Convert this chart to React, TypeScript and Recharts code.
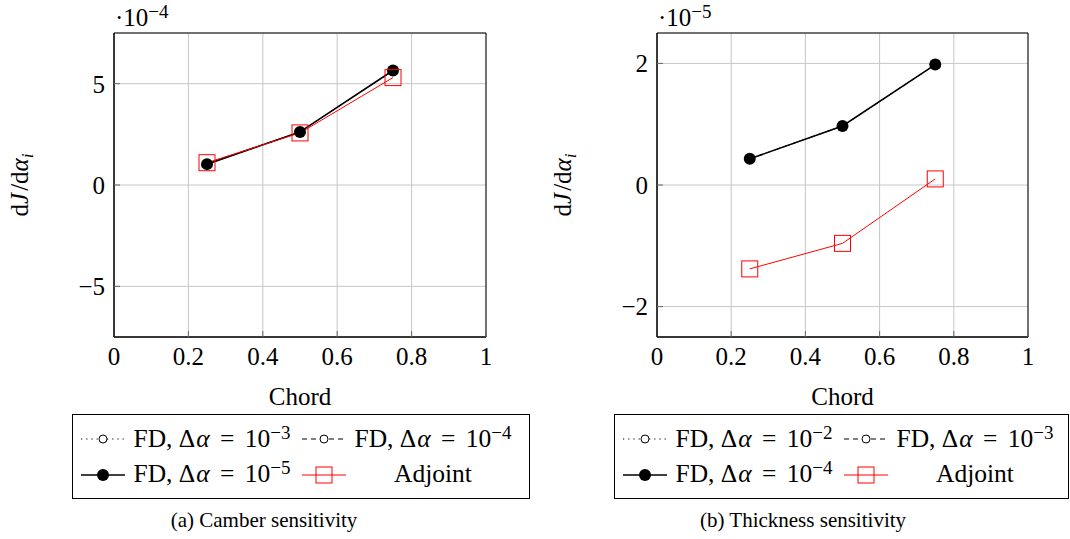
import type { ReactNode } from "react";
import {
  CartesianGrid,
  Label,
  Line,
  LineChart,
  ReferenceArea,
  XAxis,
  YAxis,
} from "recharts";

const FONT = '"Liberation Serif", "Times New Roman", serif';

const chord = [0.25, 0.5, 0.75];
const chordTicks = [0, 0.2, 0.4, 0.6, 0.8, 1];

// camber sensitivity, scaled by 1e4
const camberFdCoarse = [1.03, 2.62, 5.65];
const camberFdMid = [1.03, 2.62, 5.65];
const camberFdFine = [1.03, 2.62, 5.65];
const camberAdjoint = [1.1, 2.57, 5.3];
const camberSteps = ["−3", "−4", "−5"];
const camberTicks = [-5, 0, 5];

// thickness sensitivity, scaled by 1e5
const thicknessFdCoarse = [0.43, 0.97, 1.98];
const thicknessFdMid = [0.43, 0.97, 1.98];
const thicknessFdFine = [0.43, 0.97, 1.98];
const thicknessAdjoint = [-1.38, -0.96, 0.1];
const thicknessSteps = ["−2", "−3", "−4"];
const thicknessTicks = [-2, 0, 2];

type Mark = "open" | "filled" | "square";
type SeriesStyle = {
  key: string;
  color: string;
  width: number;
  dash?: string;
  mark: Mark;
};

const seriesStyles: SeriesStyle[] = [
  { key: "fdCoarse", color: "#000", width: 1, dash: "1.2 4", mark: "open" },
  { key: "fdMid", color: "#000", width: 1, dash: "5 4", mark: "open" },
  { key: "fdFine", color: "#000", width: 1.6, mark: "filled" },
  { key: "adjoint", color: "#ff0000", width: 1, mark: "square" },
];

function buildRows(fdCoarse: number[], fdMid: number[], fdFine: number[], adjoint: number[]) {
  return chord.map((x, i) => ({
    x,
    fdCoarse: fdCoarse[i],
    fdMid: fdMid[i],
    fdFine: fdFine[i],
    adjoint: adjoint[i],
  }));
}

const fmt = (v: number) => (v < 0 ? `−${-v}` : String(v));

const supStyle = {
  fontSize: 19,
  verticalAlign: "baseline",
  position: "relative" as const,
  top: -8,
};

function Marker({ mark, color, cx, cy }: { mark: Mark; color: string; cx: number; cy: number }) {
  if (mark === "filled") return <circle cx={cx} cy={cy} r={6} fill={color} />;
  if (mark === "open")
    return <circle cx={cx} cy={cy} r={4} fill="#fff" stroke={color} strokeWidth={1} />;
  return (
    <rect x={cx - 8} y={cy - 8} width={16} height={16} fill="none" stroke={color} strokeWidth={1} />
  );
}

function LegendSymbol({ s }: { s: SeriesStyle }) {
  return (
    <svg width={46} height={20} style={{ display: "block" }}>
      <line
        x1={1}
        y1={10}
        x2={45}
        y2={10}
        stroke={s.color}
        strokeWidth={s.width}
        strokeDasharray={s.dash}
      />
      <Marker mark={s.mark} color={s.color} cx={23} cy={10} />
    </svg>
  );
}

const legendSlots = [
  { sx: 8, tx: 140, sy: 25, ty: 12 },
  { sx: 229, tx: 361, sy: 25, ty: 12 },
  { sx: 8, tx: 140, sy: 61, ty: 47 },
  { sx: 229, tx: 361, sy: 61, ty: 47 },
];

function PanelLegend({ left, width, steps }: { left: number; width: number; steps: string[] }) {
  const labels: ReactNode[] = [
    ...steps.map((s) => (
      <>
        FD, Δ<i style={{ marginLeft: 1 }}>α</i>
        <span style={{ margin: "0 4px" }}>{" = "}</span>
        10<sup style={supStyle}>{s}</sup>
      </>
    )),
    "Adjoint",
  ];
  return (
    <div
      style={{
        position: "absolute",
        left,
        top: 414,
        width,
        height: 85,
        boxSizing: "border-box",
        border: "1px solid #000",
      }}
    >
      {seriesStyles.map((s, i) => {
        const slot = legendSlots[i];
        return (
          <div key={s.key}>
            <div style={{ position: "absolute", left: slot.sx - 1, top: slot.sy - 11 }}>
              <LegendSymbol s={s} />
            </div>
            <div
              style={{
                position: "absolute",
                left: slot.tx - 1,
                top: slot.ty - 1,
                transform: "translateX(-50%)",
                whiteSpace: "pre",
                fontSize: 25.5,
                lineHeight: "25px",
              }}
            >
              {labels[i]}
            </div>
          </div>
        );
      })}
    </div>
  );
}

type PanelProps = {
  left: number;
  width: number;
  plotLeft: number;
  plotRight: number;
  rows: ReturnType<typeof buildRows>;
  domain: [number, number];
  yTicks: number[];
  exponent: string;
  steps: string[];
  caption: string;
  captionCenter: number;
  legendLeft: number;
  legendWidth: number;
};

function Panel(p: PanelProps) {
  const yTitle = (props: any) => {
    const vb = props.viewBox ?? {};
    const x = (vb.x ?? 0) + (vb.width ?? 60) - 86;
    const y = (vb.y ?? 33) + (vb.height ?? 304) / 2;
    return (
      <text
        x={x}
        y={y}
        transform={`rotate(-90 ${x} ${y})`}
        textAnchor="middle"
        fontFamily={FONT}
        fontSize={25}
        fill="#000"
      >
        d<tspan fontStyle="italic">J</tspan>
        <tspan dx={2}>/d</tspan>
        <tspan fontStyle="italic">α</tspan>
        <tspan fontStyle="italic" fontSize={17} dy={5}>
          i
        </tspan>
      </text>
    );
  };
  const xTitle = (props: any) => {
    const vb = props.viewBox ?? {};
    return (
      <text
        x={(vb.x ?? 0) + (vb.width ?? 0) / 2}
        y={(vb.y ?? 337) + 68}
        textAnchor="middle"
        fontFamily={FONT}
        fontSize={25}
        fill="#000"
      >
        Chord
      </text>
    );
  };
  const tickStyle = { fill: "#000", fontSize: 25, fontFamily: FONT };

  return (
    <div style={{ position: "absolute", left: p.left, top: 0, width: p.width, height: 539 }}>
      <LineChart
        width={p.width}
        height={420}
        data={p.rows}
        margin={{ top: 33, right: p.width - p.plotRight, bottom: 15, left: p.plotLeft - 60 }}
      >
        <CartesianGrid stroke="#c6c6c6" strokeWidth={1} />
        <XAxis
          dataKey="x"
          type="number"
          domain={[0, 1]}
          ticks={chordTicks}
          interval={0}
          tickFormatter={fmt}
          height={68}
          tickSize={-6}
          tickMargin={16}
          tickLine={{ stroke: "#666" }}
          axisLine={{ stroke: "#000" }}
          tick={tickStyle}
        >
          <Label content={xTitle} />
        </XAxis>
        <XAxis
          xAxisId="top"
          orientation="top"
          type="number"
          domain={[0, 1]}
          ticks={chordTicks}
          interval={0}
          height={0}
          tickSize={-6}
          tickLine={{ stroke: "#666" }}
          axisLine={false}
          tick={false}
        />
        <YAxis
          type="number"
          domain={p.domain}
          ticks={p.yTicks}
          interval={0}
          tickFormatter={fmt}
          width={60}
          tickSize={-6}
          tickMargin={15}
          tickLine={{ stroke: "#666" }}
          axisLine={{ stroke: "#000" }}
          tick={tickStyle}
        >
          <Label content={yTitle} />
        </YAxis>
        <YAxis
          yAxisId="right"
          orientation="right"
          type="number"
          domain={p.domain}
          ticks={p.yTicks}
          interval={0}
          width={0}
          tickSize={-6}
          tickLine={{ stroke: "#666" }}
          axisLine={false}
          tick={false}
        />
        <ReferenceArea
          x1={0}
          x2={1}
          y1={p.domain[0]}
          y2={p.domain[1]}
          fill="none"
          fillOpacity={0}
          stroke="#000"
          strokeWidth={1}
        />
        {seriesStyles.map((s) => (
          <Line
            key={s.key}
            dataKey={s.key}
            stroke={s.color}
            strokeWidth={s.width}
            strokeDasharray={s.dash}
            activeDot={false}
            isAnimationActive={false}
            dot={(d: any) => (
              <Marker key={`${s.key}-${d.index}`} mark={s.mark} color={s.color} cx={d.cx} cy={d.cy} />
            )}
          />
        ))}
      </LineChart>
      <div
        style={{
          position: "absolute",
          left: p.plotLeft + 1,
          top: 5,
          fontSize: 25,
          lineHeight: "25px",
          whiteSpace: "nowrap",
        }}
      >
        ·10<sup style={supStyle}>{p.exponent}</sup>
      </div>
      <PanelLegend left={p.legendLeft} width={p.legendWidth} steps={p.steps} />
      <div
        style={{
          position: "absolute",
          left: p.captionCenter,
          top: 510,
          transform: "translateX(-50%)",
          whiteSpace: "nowrap",
          fontSize: 21,
          lineHeight: "21px",
        }}
      >
        {p.caption}
      </div>
    </div>
  );
}

export default function App() {
  return (
    <div
      style={{
        position: "absolute",
        left: 0,
        top: 0,
        width: 1070,
        height: 539,
        background: "#fff",
        fontFamily: FONT,
        color: "#000",
      }}
    >
      <Panel
        left={0}
        width={540}
        plotLeft={114}
        plotRight={486}
        rows={buildRows(camberFdCoarse, camberFdMid, camberFdFine, camberAdjoint)}
        domain={[-7.5, 7.5]}
        yTicks={camberTicks}
        exponent="−4"
        steps={camberSteps}
        caption="(a) Camber sensitivity"
        captionCenter={264}
        legendLeft={72}
        legendWidth={458}
      />
      <Panel
        left={540}
        width={530}
        plotLeft={117}
        plotRight={488}
        rows={buildRows(thicknessFdCoarse, thicknessFdMid, thicknessFdFine, thicknessAdjoint)}
        domain={[-2.5, 2.5]}
        yTicks={thicknessTicks}
        exponent="−5"
        steps={thicknessSteps}
        caption="(b) Thickness sensitivity"
        captionCenter={263}
        legendLeft={74}
        legendWidth={455}
      />
    </div>
  );
}
